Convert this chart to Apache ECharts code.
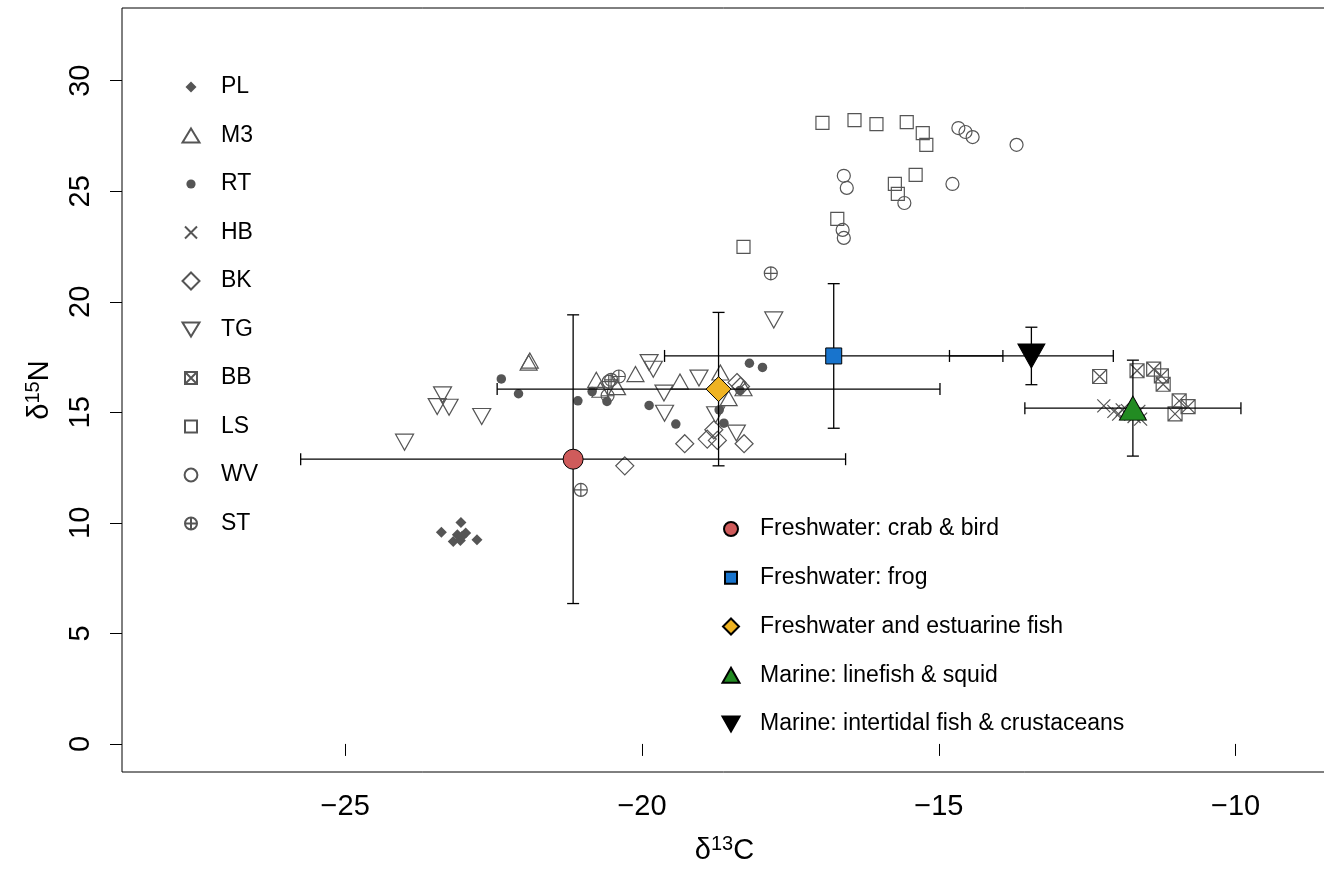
<!DOCTYPE html>
<html>
<head>
<meta charset="utf-8">
<script src="https://cdn.jsdelivr.net/npm/echarts@6/dist/echarts.min.js"></script>
<style>
html, body { margin: 0; padding: 0; background: #fff; overflow: hidden; }
#chart { width: 1324px; height: 869px; }
</style>
</head>
<body>
<div id="chart"></div>
<script>
// Stable isotope values (d13C, d15N) for each sample group
const PL = [[-23.38, 9.58], [-23.05, 10.02], [-23.18, 9.16], [-23.06, 9.20], [-22.97, 9.54], [-22.78, 9.24], [-23.11, 9.46], [-23.03, 9.39]];
const M3 = [[-21.89, 17.34], [-21.91, 17.25], [-20.77, 16.47], [-20.42, 16.14], [-20.70, 16.02], [-20.11, 16.73], [-19.36, 16.39], [-18.68, 16.80], [-18.54, 15.64], [-18.29, 16.09]];
const RT = [[-22.37, 16.51], [-22.08, 15.84], [-21.08, 15.52], [-20.84, 15.94], [-20.59, 15.49], [-19.88, 15.31], [-19.43, 14.47], [-18.70, 15.11], [-18.62, 14.51], [-18.35, 15.99], [-18.19, 17.22], [-17.97, 17.03]];
const HB = [[-12.22, 15.29], [-12.05, 15.04], [-11.97, 14.92], [-11.82, 15.08], [-11.71, 14.81], [-11.60, 14.69], [-11.63, 15.04], [-11.91, 15.11]];
const BK = [[-19.28, 13.58], [-18.90, 13.79], [-18.73, 13.73], [-18.28, 13.58], [-20.29, 12.58], [-18.79, 14.21], [-18.40, 16.35], [-18.34, 16.17]];
const TG = [[-23.36, 15.79], [-23.45, 15.26], [-23.25, 15.23], [-22.70, 14.81], [-24.00, 13.65], [-19.88, 17.25], [-19.81, 16.95], [-19.63, 15.87], [-19.62, 14.96], [-19.04, 16.55], [-18.76, 14.89], [-18.41, 14.06], [-17.78, 19.18]];
const BB = [[-12.29, 16.62], [-11.66, 16.88], [-11.38, 16.95], [-11.25, 16.65], [-11.22, 16.27], [-10.95, 15.52], [-10.80, 15.26], [-11.02, 14.93]];
const LS = [[-16.96, 28.09], [-16.42, 28.22], [-16.05, 28.04], [-15.54, 28.13], [-15.27, 27.63], [-15.21, 27.10], [-15.39, 25.74], [-15.74, 25.33], [-15.69, 24.88], [-16.71, 23.75], [-18.29, 22.48]];
const WV = [[-14.67, 27.86], [-14.55, 27.68], [-14.43, 27.45], [-13.69, 27.10], [-16.60, 25.70], [-16.55, 25.15], [-14.77, 25.33], [-15.58, 24.47], [-16.62, 23.25], [-16.60, 22.89]];
const ST = [[-20.52, 16.47], [-20.39, 16.62], [-20.56, 16.39], [-20.58, 15.75], [-21.03, 11.49], [-17.83, 21.29]];

// Food source groups: mean and spread on both axes
const sourceNames = ['Freshwater: crab & bird', 'Freshwater: frog', 'Freshwater and estuarine fish', 'Marine: linefish & squid', 'Marine: intertidal fish & crustaceans'];
const sourceMeanC = [-21.16, -16.77, -18.71, -11.73, -13.44];
const sourceMeanN = [12.88, 17.55, 16.05, 15.19, 17.55];
const sourceSdC = [4.59, 2.85, 3.73, 1.82, 1.38];
const sourceSdN = [6.53, 3.27, 3.47, 2.17, 1.30];

// Axis ticks
const xTicks = [-25, -20, -15, -10];
const yTicks = [0, 5, 10, 15, 20, 25, 30];

const FONT = '"Liberation Sans", Arial, Helvetica, sans-serif';
const GREY = '#555555';
const NONE = 'rgba(0,0,0,0)';

// Plot symbols
const PATH_X = 'path://M0,0L10,10M10,0L0,10';
const PATH_BOXX = 'path://M0,0L10,0L10,10L0,10ZM0,0L10,10M10,0L0,10';
const PATH_CPLUS = 'path://M10,5A5,5 0 1 1 0,5A5,5 0 1 1 10,5ZM0,5L10,5M5,0L5,10';

// Legend icons, drawn inside an 18 x 18 box (the leading moves fix the box)
const BOX = 'M0,0M18,18';
const circleIcon = function (r) {
  return 'M' + (9 + r) + ',9A' + r + ',' + r + ' 0 1 1 ' + (9 - r) + ',9A' + r + ',' + r + ' 0 1 1 ' + (9 + r) + ',9Z';
};
const diamondIcon = function (h) {
  return 'M9,' + (9 - h) + 'L' + (9 + h) + ',9L9,' + (9 + h) + 'L' + (9 - h) + ',9Z';
};
const squareIcon = function (h) {
  return 'M' + (9 - h) + ',' + (9 - h) + 'L' + (9 + h) + ',' + (9 - h) + 'L' + (9 + h) + ',' + (9 + h) + 'L' + (9 - h) + ',' + (9 + h) + 'Z';
};
const crossIcon = function (h) {
  return 'M' + (9 - h) + ',' + (9 - h) + 'L' + (9 + h) + ',' + (9 + h) + 'M' + (9 + h) + ',' + (9 - h) + 'L' + (9 - h) + ',' + (9 + h);
};
const upTriIcon = function (w, h) {
  return 'M9,' + (9 - h / 2) + 'L' + (9 + w / 2) + ',' + (9 + h / 2) + 'L' + (9 - w / 2) + ',' + (9 + h / 2) + 'Z';
};
const downTriIcon = function (w, h) {
  return 'M' + (9 - w / 2) + ',' + (9 - h / 2) + 'L' + (9 + w / 2) + ',' + (9 - h / 2) + 'L9,' + (9 + h / 2) + 'Z';
};
const icon = function (d) { return 'path://' + BOX + d; };

const groupStyle = [
  { name: 'PL', data: PL, symbol: 'diamond', size: 11, fill: GREY, rotate: 0, icon: icon(diamondIcon(5.5)) },
  { name: 'M3', data: M3, symbol: 'triangle', size: [17, 15], fill: NONE, rotate: 0, icon: icon(upTriIcon(17, 14)) },
  { name: 'RT', data: RT, symbol: 'circle', size: 9.5, fill: GREY, rotate: 0, icon: icon(circleIcon(4.6)) },
  { name: 'HB', data: HB, symbol: PATH_X, size: 13, fill: NONE, rotate: 0, icon: icon(crossIcon(6)) },
  { name: 'BK', data: BK, symbol: 'diamond', size: 18, fill: NONE, rotate: 0, icon: icon(diamondIcon(8.5)) },
  { name: 'TG', data: TG, symbol: 'triangle', size: [18, 16], fill: NONE, rotate: 180, icon: icon(downTriIcon(17, 14)) },
  { name: 'BB', data: BB, symbol: PATH_BOXX, size: 14, fill: NONE, rotate: 0, icon: icon(squareIcon(6) + crossIcon(6)) },
  { name: 'LS', data: LS, symbol: 'rect', size: 13, fill: NONE, rotate: 0, icon: icon(squareIcon(6)) },
  { name: 'WV', data: WV, symbol: 'circle', size: 13, fill: NONE, rotate: 0, icon: icon(circleIcon(6.4)) },
  { name: 'ST', data: ST, symbol: PATH_CPLUS, size: 13, fill: NONE, rotate: 0, icon: icon(circleIcon(6) + 'M3,9L15,9M9,3L9,15') }
];

const sourceStyle = [
  { symbol: 'circle', size: 20, color: '#CF5B5B', rotate: 0, icon: icon(circleIcon(7)) },
  { symbol: 'rect', size: 16, color: '#1874CD', rotate: 0, icon: icon(squareIcon(6)) },
  { symbol: 'diamond', size: 25, color: '#EFB322', rotate: 0, icon: icon(diamondIcon(8)) },
  { symbol: 'triangle', size: [27, 24], color: '#228B22', rotate: 0, icon: icon(upTriIcon(17, 15)) },
  { symbol: 'triangle', size: [27, 24], color: '#000000', rotate: 180, icon: icon(downTriIcon(17, 15)) }
];

const series = [];

groupStyle.forEach(function (g) {
  series.push({
    type: 'scatter',
    name: g.name,
    data: g.data,
    symbol: g.symbol,
    symbolSize: g.size,
    symbolRotate: g.rotate,
    z: 2,
    itemStyle: {
      color: g.fill,
      borderColor: GREY,
      borderWidth: g.fill === NONE ? 1.2 : 0,
      opacity: 1
    },
    emphasis: { disabled: true }
  });
});

// Error bars (mean +/- spread) for the food sources
const errorData = sourceNames.map(function (n, i) {
  return [sourceMeanC[i], sourceMeanN[i], sourceSdC[i], sourceSdN[i]];
});

series.push({
  type: 'custom',
  name: 'errorbars',
  z: 3,
  data: errorData,
  renderItem: function (params, api) {
    const x = api.value(0), y = api.value(1), ex = api.value(2), ey = api.value(3);
    const L = api.coord([x - ex, y]);
    const R = api.coord([x + ex, y]);
    const T = api.coord([x, y + ey]);
    const B = api.coord([x, y - ey]);
    const cap = 6;
    const st = { stroke: '#000', lineWidth: 1.3, fill: null };
    const line = function (x1, y1, x2, y2) {
      return { type: 'line', shape: { x1: x1, y1: y1, x2: x2, y2: y2 }, style: st };
    };
    return {
      type: 'group',
      children: [
        line(L[0], L[1], R[0], R[1]),
        line(L[0], L[1] - cap, L[0], L[1] + cap),
        line(R[0], R[1] - cap, R[0], R[1] + cap),
        line(T[0], T[1], B[0], B[1]),
        line(T[0] - cap, T[1], T[0] + cap, T[1]),
        line(B[0] - cap, B[1], B[0] + cap, B[1])
      ]
    };
  },
  silent: true
});

sourceNames.forEach(function (n, i) {
  const s = sourceStyle[i];
  series.push({
    type: 'scatter',
    name: n,
    data: [[sourceMeanC[i], sourceMeanN[i]]],
    symbol: s.symbol,
    symbolSize: s.size,
    symbolRotate: s.rotate,
    z: 4,
    itemStyle: { color: s.color, borderColor: '#000', borderWidth: 1, opacity: 1 },
    emphasis: { disabled: true }
  });
});

const minus = function (v) { return String(v).replace('-', '\u2212'); };

const option = {
  animation: false,
  backgroundColor: '#ffffff',
  // the plot box runs past the right edge of the page
  grid: {
    left: 122, right: -3, top: 8, bottom: 97,
    show: true, borderColor: '#000', borderWidth: 1,
    containLabel: false, outerBoundsMode: 'none'
  },
  xAxis: {
    type: 'value',
    min: -28.76, max: -8.46,
    axisLine: { show: false },
    splitLine: { show: false },
    axisTick: { show: true, length: 12, inside: false, customValues: xTicks, lineStyle: { color: '#000', width: 1 } },
    axisLabel: { customValues: xTicks, formatter: minus, fontSize: 29, fontFamily: FONT, color: '#000', margin: 20 },
    name: '{a|\u03b4}{b|13}{a|C}',
    nameLocation: 'middle',
    nameGap: 62,
    nameTextStyle: {
      rich: {
        a: { fontSize: 29, fontFamily: FONT, color: '#000', lineHeight: 34 },
        b: { fontSize: 20, fontFamily: FONT, color: '#000', verticalAlign: 'top', lineHeight: 20 }
      }
    }
  },
  yAxis: {
    type: 'value',
    min: -1.27, max: 33.29,
    axisLine: { show: false },
    splitLine: { show: false },
    axisTick: { show: true, length: 12, inside: false, customValues: yTicks, lineStyle: { color: '#000', width: 1 } },
    axisLabel: { customValues: yTicks, rotate: 90, fontSize: 29, fontFamily: FONT, color: '#000', margin: 27 },
    name: '{a|\u03b4}{b|15}{a|N}',
    nameLocation: 'middle',
    nameRotate: 90,
    nameGap: 65,
    nameTextStyle: {
      rich: {
        a: { fontSize: 29, fontFamily: FONT, color: '#000', lineHeight: 34 },
        b: { fontSize: 20, fontFamily: FONT, color: '#000', verticalAlign: 'top', lineHeight: 20 }
      }
    }
  },
  legend: [
    {
      data: groupStyle.map(function (g) { return { name: g.name, icon: g.icon }; }),
      orient: 'vertical',
      left: 176, top: 70,
      itemWidth: 18, itemHeight: 18, itemGap: 24.5,
      selectedMode: false,
      textStyle: { fontSize: 23, fontFamily: FONT, color: '#000', lineHeight: 24, padding: [0, 0, 0, 16] }
    },
    {
      data: sourceNames.map(function (n, i) { return { name: n, icon: sourceStyle[i].icon }; }),
      orient: 'vertical',
      left: 716, top: 512,
      itemWidth: 18, itemHeight: 18, itemGap: 24.75,
      selectedMode: false,
      textStyle: { fontSize: 23, fontFamily: FONT, color: '#000', lineHeight: 24, padding: [0, 0, 0, 15] }
    }
  ],
  series: series
};

const chart = echarts.init(document.getElementById('chart'), null, { renderer: 'canvas' });
chart.setOption(option);
</script>
</body>
</html>
